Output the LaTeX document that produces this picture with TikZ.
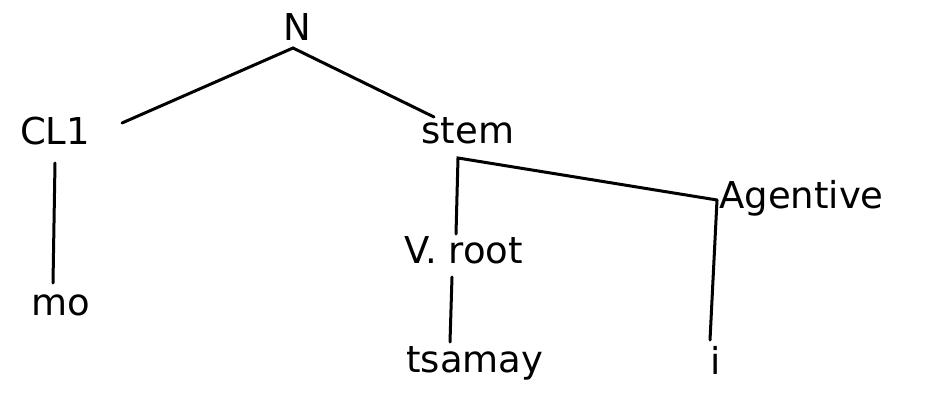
\documentclass[tikz,border=0pt]{standalone}
\usepackage{fontspec}
\setmainfont{DejaVu Sans}
\begin{document}
\begin{tikzpicture}[x=1pt,y=-1pt,
  lbl/.style={inner sep=0pt,font=\fontsize{37}{40}\selectfont},
  edge/.style={line width=3pt,line cap=round}]
\useasboundingbox[fill=white] (0,0) rectangle (939,401);
\node[lbl] (N) at (297,27) {N};
\node[lbl] (CL) at (55,131) {CL1};
\node[lbl] (stem) at (468,131) {stem};
\node[lbl,anchor=west] (Ag) at (719,198) {Agentive};
\node[lbl] (Vr) at (464,250) {V. root};
\node[lbl] (mo) at (61,305) {mo};
\node[lbl,anchor=base] (ts) at (475,372) {tsamay};
\node[lbl] (i) at (716,360) {i};
\coordinate (Nb) at (293,48);
\coordinate (CLe) at (122,123);
\coordinate (stemw) at (434,117);
\coordinate (fork) at (458,158);
\coordinate (Vrt) at (456,234);
\coordinate (Agw) at (717,200);
\coordinate (CLb) at (55,163);
\coordinate (mot) at (53,283);
\coordinate (Vrb) at (452,277);
\coordinate (tst) at (450,342);
\coordinate (it) at (710,340);
\draw[edge] (CLe) -- (Nb) -- (stemw);
\draw[edge] (Vrt) -- (fork) -- (Agw);
\draw[edge] (Agw) -- (it);
\draw[edge] (CLb) -- (mot);
\draw[edge] (Vrb) -- (tst);
\end{tikzpicture}
\end{document}
